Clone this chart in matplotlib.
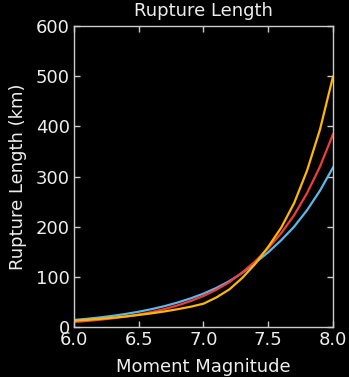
import matplotlib
matplotlib.use("Agg")
import matplotlib.pyplot as plt

# moment magnitude grid
magnitude = [6.0, 6.1, 6.2, 6.3, 6.4, 6.5, 6.6, 6.7, 6.8, 6.9, 7.0,
             7.1, 7.2, 7.3, 7.4, 7.5, 7.6, 7.7, 7.8, 7.9, 8.0]

# rupture length (km)
length_yellow = [12.5, 14.2, 16.2, 18.5, 21.1, 24.0, 27.3, 31.1, 35.5, 40.4, 46.5,
                 59.0, 75.0, 98.0, 126, 160, 198, 247, 312, 394, 499]
length_red = [10.0, 12.0, 14.4, 17.3, 20.7, 24.9, 29.8, 35.8, 43.0, 51.6, 61.9,
              74.3, 89.5, 109, 131, 157, 187, 223, 267, 320, 384]
length_blue = [14.0, 16.4, 19.1, 22.3, 26.1, 30.5, 35.7, 41.7, 48.8, 57.0, 66.6,
               78.0, 91.5, 108, 128, 149, 173, 200, 233, 272, 318]

fg = '#eeeeee'

fig = plt.figure(figsize=(3.49, 3.77), dpi=100, facecolor='black')
ax = fig.add_axes([0.212, 0.1326, 0.742, 0.798])
ax.set_facecolor('black')

ax.plot(magnitude, length_blue, color='#5bb8e8', linewidth=1.6)
ax.plot(magnitude, length_red, color='#f03c3c', linewidth=1.6)
ax.plot(magnitude, length_yellow, color='#ffb700', linewidth=1.6)

ax.set_xlim(6.0, 8.0)
ax.set_ylim(0, 600)
ax.set_xticks([6.0, 6.5, 7.0, 7.5, 8.0])
ax.set_yticks([0, 100, 200, 300, 400, 500, 600])

ax.set_title('Rupture Length', color=fg, fontsize=13, pad=7)
ax.set_xlabel('Moment Magnitude', color=fg, fontsize=13, labelpad=6)
ax.set_ylabel('Rupture Length (km)', color=fg, fontsize=13, labelpad=6)

ax.tick_params(direction='in', top=True, right=True, colors='#cccccc',
               labelcolor=fg, labelsize=13, length=4, width=1, pad=3)
for s in ax.spines.values():
    s.set_color('#cccccc')
    s.set_linewidth(1)

fig.savefig('out.png', dpi=100, facecolor='black')
